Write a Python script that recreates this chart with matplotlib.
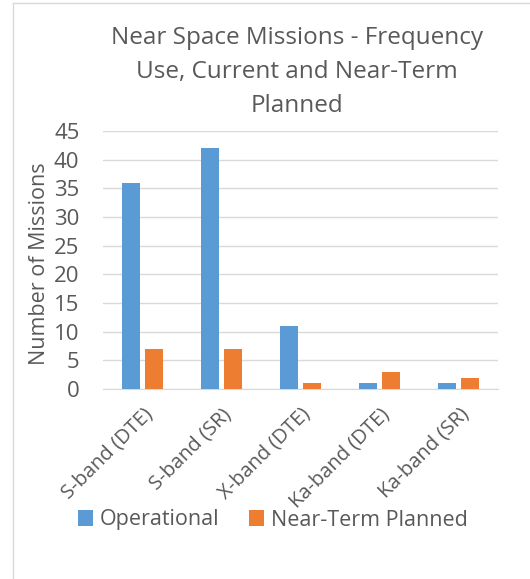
import numpy as np
import matplotlib.pyplot as plt
from matplotlib.lines import Line2D

plt.rcParams['font.family'] = ['Open Sans', 'DejaVu Sans']

categories = ["S-band (DTE)", "S-band (SR)", "X-band (DTE)", "Ka-band (DTE)", "Ka-band (SR)"]
operational = [36, 42, 11, 1, 1]
near_term = [7, 7, 1, 3, 2]

blue = "#5b9bd5"
orange = "#ed7d31"
grey = "#595959"

fig = plt.figure(figsize=(5.3, 5.79), dpi=100)
ax = fig.add_axes([103 / 530, 1 - 389 / 579, 395 / 530, 258 / 579])

x = np.arange(len(categories))
w = 0.22
ax.bar(x - 0.145, operational, w, color=blue, label="Operational", zorder=3)
ax.bar(x + 0.145, near_term, w, color=orange, label="Near-Term Planned", zorder=3)

ax.set_xlim(-0.5, len(categories) - 0.5)
ax.set_ylim(0, 45)
ax.set_yticks(range(0, 46, 5))
ax.yaxis.grid(True, color="#d9d9d9", linewidth=1, zorder=0)
ax.set_axisbelow(True)
for s in ["top", "right", "left"]:
    ax.spines[s].set_visible(False)
ax.spines["bottom"].set_color("#d9d9d9")
ax.tick_params(length=0, colors=grey, labelsize=16)
ax.tick_params(axis="y", pad=17)
ax.tick_params(axis="x", pad=11)
ax.set_xticks(x)
ax.set_xticklabels(categories, rotation=45, ha="right", rotation_mode="anchor", fontsize=14.5)
ax.set_ylabel("Number of Missions", color=grey, fontsize=15.5, va="center")
ax.yaxis.set_label_coords(-0.16, 0.486)

fig.text(0.561, 1 - 72 / 579, "Near Space Missions - Frequency\nUse, Current and Near-Term\nPlanned",
         ha="center", va="center", fontsize=17.5, color=grey, linespacing=1.55)

fig.legend(loc="center", bbox_to_anchor=(0.515, 1 - 520 / 579), ncol=2, frameon=False,
           fontsize=15.5, labelcolor=grey, handlelength=0.7, handleheight=0.7,
           handletextpad=0.3, columnspacing=1.4)

# partial outer border of the chart object
fig.add_artist(Line2D([13 / 530, 13 / 530], [0, 1 - 3 / 579], color="#d9d9d9", lw=1))
fig.add_artist(Line2D([13 / 530, 1], [1 - 3 / 579, 1 - 3 / 579], color="#d9d9d9", lw=1))

fig.savefig("out.png", dpi=100)
